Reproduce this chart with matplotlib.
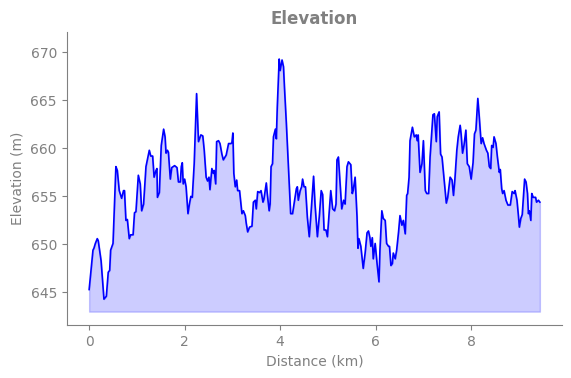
import matplotlib
matplotlib.use("Agg")
import matplotlib.pyplot as plt

distance_km = [
    0.00, 0.08, 0.10, 0.13, 0.17, 0.19, 0.25, 0.31, 0.36, 0.40, 0.43, 0.45, 0.50, 0.56, 0.59,
    0.63, 0.68, 0.72, 0.74, 0.77, 0.80, 0.84, 0.87, 0.92, 0.95, 0.98, 1.03, 1.07, 1.10, 1.14,
    1.19, 1.23, 1.26, 1.29, 1.33, 1.36, 1.40, 1.42, 1.43, 1.47, 1.51, 1.56, 1.59, 1.61, 1.64,
    1.66, 1.70, 1.73, 1.79, 1.84, 1.87, 1.91, 1.93, 1.95, 1.97, 2.00, 2.03, 2.07, 2.10, 2.13,
    2.16, 2.20, 2.25, 2.29, 2.34, 2.38, 2.41, 2.45, 2.48, 2.51, 2.53, 2.57, 2.60, 2.62, 2.65,
    2.67, 2.71, 2.74, 2.78, 2.81, 2.87, 2.92, 2.97, 2.99, 3.01, 3.03, 3.06, 3.09, 3.11, 3.15,
    3.18, 3.20, 3.23, 3.27, 3.29, 3.32, 3.36, 3.41, 3.44, 3.48, 3.50, 3.53, 3.57, 3.60, 3.64,
    3.66, 3.71, 3.73, 3.77, 3.79, 3.81, 3.84, 3.86, 3.90, 3.92, 3.94, 3.98, 4.00, 4.04, 4.07,
    4.09, 4.13, 4.17, 4.22, 4.26, 4.29, 4.34, 4.36, 4.38, 4.42, 4.45, 4.47, 4.50, 4.53, 4.57,
    4.61, 4.65, 4.70, 4.73, 4.78, 4.82, 4.86, 4.89, 4.92, 4.96, 4.99, 5.03, 5.06, 5.10, 5.14,
    5.17, 5.19, 5.22, 5.26, 5.29, 5.33, 5.36, 5.40, 5.43, 5.48, 5.51, 5.53, 5.57, 5.61, 5.63,
    5.65, 5.69, 5.74, 5.78, 5.82, 5.85, 5.88, 5.90, 5.93, 5.95, 5.99, 6.03, 6.07, 6.09, 6.13,
    6.16, 6.20, 6.23, 6.27, 6.29, 6.32, 6.35, 6.37, 6.41, 6.44, 6.48, 6.51, 6.55, 6.58, 6.62,
    6.65, 6.67, 6.70, 6.72, 6.77, 6.81, 6.85, 6.87, 6.89, 6.93, 6.97, 7.00, 7.04, 7.07, 7.11,
    7.14, 7.20, 7.23, 7.27, 7.29, 7.33, 7.36, 7.39, 7.42, 7.48, 7.51, 7.56, 7.60, 7.63, 7.66,
    7.70, 7.73, 7.77, 7.79, 7.82, 7.85, 7.89, 7.92, 7.96, 8.00, 8.04, 8.07, 8.10, 8.14, 8.17,
    8.21, 8.24, 8.27, 8.32, 8.35, 8.38, 8.41, 8.43, 8.46, 8.48, 8.52, 8.55, 8.59, 8.61, 8.64,
    8.66, 8.69, 8.73, 8.77, 8.82, 8.86, 8.90, 8.92, 8.96, 8.99, 9.01, 9.04, 9.07, 9.12, 9.15,
    9.18, 9.20, 9.22, 9.25, 9.27, 9.30, 9.35, 9.37, 9.41, 9.44,
]

elevation_m = [
    645.3, 649.4, 649.6, 650.1, 650.6, 650.4, 648.3, 644.3, 644.6, 647.1, 647.3, 649.4, 650.1, 658.1, 657.7,
    655.6, 654.8, 655.6, 655.6, 652.5, 652.6, 650.6, 651.0, 651.0, 653.3, 653.4, 657.2, 656.3, 653.5, 654.2,
    658.1, 659.1, 659.8, 659.2, 659.2, 657.0, 657.7, 657.9, 654.9, 655.4, 660.3, 662.0, 661.2, 659.5, 659.8,
    659.6, 656.8, 658.0, 658.2, 658.0, 656.5, 656.5, 658.1, 658.5, 656.3, 656.8, 656.0, 653.2, 654.2, 655.0,
    654.9, 658.4, 665.7, 660.7, 661.4, 661.3, 659.8, 657.0, 656.6, 657.0, 655.7, 657.9, 657.4, 657.7, 656.3,
    660.7, 660.8, 660.5, 659.4, 658.8, 659.3, 660.5, 660.5, 660.6, 661.6, 657.4, 656.0, 656.7, 655.6, 655.6,
    654.2, 653.2, 653.5, 653.0, 652.2, 651.3, 651.8, 651.9, 654.4, 654.6, 653.7, 655.5, 655.4, 655.6, 654.4,
    654.7, 656.4, 655.3, 653.5, 654.2, 658.1, 658.4, 661.2, 662.0, 661.0, 664.3, 669.3, 668.1, 669.2, 668.5,
    666.4, 662.6, 658.4, 653.2, 653.2, 654.2, 655.8, 656.0, 654.6, 655.6, 656.0, 656.8, 656.0, 656.0, 652.8,
    650.8, 653.5, 657.1, 654.2, 650.8, 652.9, 655.6, 655.2, 651.5, 651.5, 650.8, 653.6, 655.6, 653.7, 653.5,
    654.2, 658.8, 659.1, 656.0, 653.7, 654.6, 654.2, 658.1, 658.6, 658.3, 655.3, 655.6, 657.0, 652.9, 649.6,
    650.6, 649.8, 647.5, 649.1, 651.2, 651.4, 650.7, 649.8, 650.7, 648.5, 650.1, 648.0, 646.1, 649.4, 653.5,
    652.7, 652.5, 650.1, 649.8, 649.8, 647.8, 648.0, 649.1, 648.5, 649.4, 651.3, 653.0, 652.0, 652.5, 651.1,
    655.1, 655.3, 657.0, 660.8, 662.2, 661.2, 661.4, 660.8, 661.4, 657.5, 658.4, 660.8, 655.6, 655.3, 655.3,
    659.1, 663.5, 663.6, 660.7, 663.3, 663.8, 659.4, 659.1, 657.5, 654.3, 654.9, 657.0, 656.7, 655.1, 656.8,
    659.8, 661.2, 662.4, 661.5, 659.5, 660.3, 661.9, 658.4, 658.1, 656.8, 658.5, 661.5, 661.9, 665.2, 663.3,
    660.5, 661.1, 660.5, 659.8, 659.5, 658.1, 657.9, 660.3, 660.1, 661.2, 660.5, 659.1, 657.5, 657.8, 655.8,
    655.3, 655.6, 654.6, 654.1, 654.1, 655.5, 655.3, 655.6, 654.6, 653.0, 651.8, 652.7, 653.1, 656.8, 656.5,
    655.3, 653.2, 653.5, 652.5, 655.3, 654.9, 654.9, 654.4, 654.6, 654.4,
]

fill_base = 643
x_ticks = [0, 2, 4, 6, 8]
y_ticks = [645, 650, 655, 660, 665, 670]

gray = "#808080"

fig = plt.figure(figsize=(5.71, 3.78), dpi=100)
ax = fig.add_axes([0.1168, 0.140, 0.868, 0.775])

ax.fill_between(distance_km, elevation_m, fill_base, color="blue", alpha=0.2)
ax.plot(distance_km, elevation_m, color="blue", linewidth=1.2)

ax.set_xlim(-0.47, 9.91)
ax.set_ylim(641.6, 672.1)
ax.set_xticks(x_ticks)
ax.set_yticks(y_ticks)

ax.set_title("Elevation", color=gray, fontsize=12, fontweight="bold")
ax.set_xlabel("Distance (km)", color=gray, fontsize=10)
ax.set_ylabel("Elevation (m)", color=gray, fontsize=10)

for side in ["top", "right"]:
    ax.spines[side].set_visible(False)
for side in ["left", "bottom"]:
    ax.spines[side].set_color(gray)
ax.tick_params(colors=gray, labelsize=10)

fig.savefig("out.png", dpi=100)
